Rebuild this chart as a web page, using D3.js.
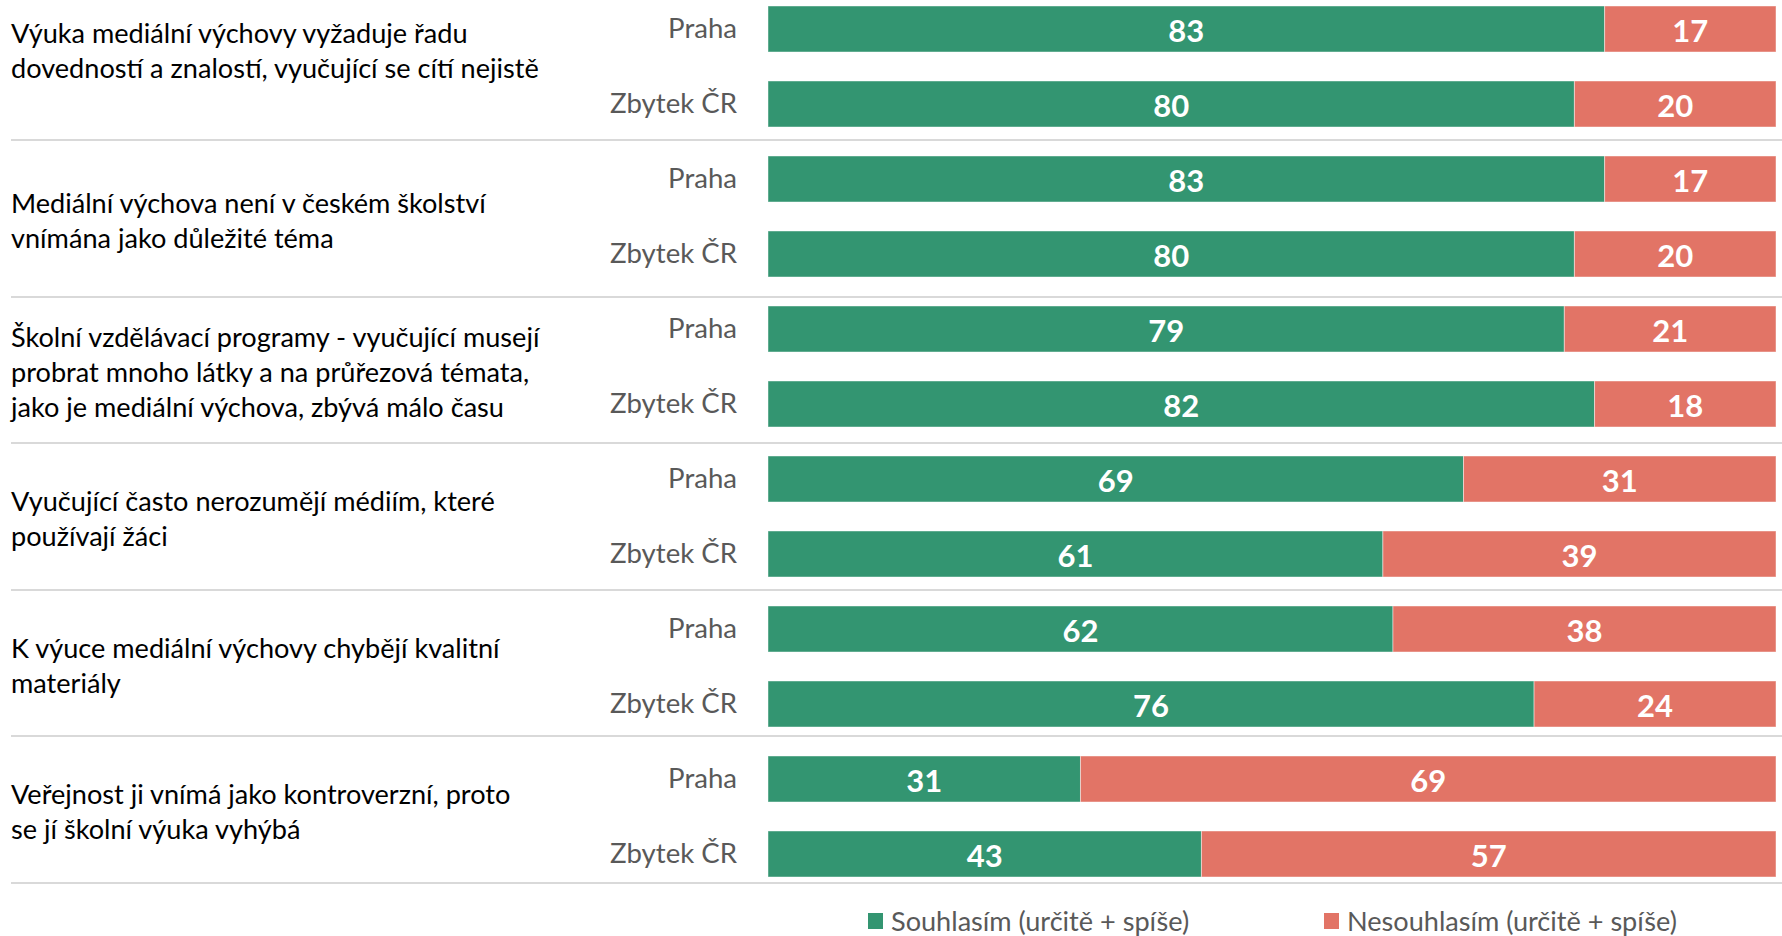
<!DOCTYPE html>
<html><head><meta charset="utf-8">
<script src="https://cdn.jsdelivr.net/npm/d3@7"></script>
<style>body{margin:0;background:#fff}svg{display:block}</style>
</head><body>
<svg id="c" width="1782" height="936"></svg>
<script>
// ---- data ----
const categories = [
  ["Výuka mediální výchovy vyžaduje řadu", "dovedností a znalostí, vyučující se cítí nejistě"],
  ["Mediální výchova není v českém školství", "vnímána jako důležité téma"],
  ["Školní vzdělávací programy - vyučující musejí", "probrat mnoho látky a na průřezová témata,", "jako je mediální výchova, zbývá málo času"],
  ["Vyučující často nerozumějí médiím, které", "používají žáci"],
  ["K výuce mediální výchovy chybějí kvalitní", "materiály"],
  ["Veřejnost ji vnímá jako kontroverzní, proto", "se jí školní výuka vyhýbá"]
];
const regions = ["Praha", "Zbytek ČR"];
const agreePraha    = [83, 83, 79, 69, 62, 31];
const agreeRest     = [80, 80, 82, 61, 76, 43];
const disagreePraha = [17, 17, 21, 31, 38, 69];
const disagreeRest  = [20, 20, 18, 39, 24, 57];
const seriesNames = ["Souhlasím (určitě + spíše)", "Nesouhlasím (určitě + spíše)"];
const xTicks = [0, 100];

// ---- layout / style ----
const FONT = "Lato, 'Open Sans', sans-serif";
const GREEN = "#339571", RED = "#E27466";
const ruleY = [140, 297, 443, 590, 736, 883];
const firstCellTop = -43;

const svg = d3.select("#c");

// measure helper for fitting fallback font to the original text widths
function fitSize(text, weight, target) {
  const t = svg.append("text").attr("font-family", FONT).attr("font-weight", weight)
    .attr("font-size", 100).text(text);
  const w = t.node().getComputedTextLength();
  t.remove();
  return 100 * target / w;
}
const catSize = fitSize(categories[0][1], 400, 528);
const regSize = fitSize(regions[1], 400, 127);
const legSize = fitSize(seriesNames[1], 400, 330);
const valSize = 31;

const rows = [];
categories.forEach((c, i) => {
  rows.push({key: i + "-0", cat: i, region: regions[0], agree: agreePraha[i], disagree: disagreePraha[i]});
  rows.push({key: i + "-1", cat: i, region: regions[1], agree: agreeRest[i], disagree: disagreeRest[i]});
});

const x = d3.scaleLinear().domain(d3.extent(xTicks)).range([768, 1776]);
const y = d3.scaleBand().domain(rows.map(r => r.key)).range([6, 877]).paddingInner(0.3867).paddingOuter(0);

// separators
svg.append("g").selectAll("line").data(ruleY).join("line")
  .attr("x1", 11).attr("x2", 1782).attr("y1", d => d).attr("y2", d => d)
  .attr("stroke", "#D9D9D9").attr("stroke-width", 2);

// category labels
const cellTops = [firstCellTop].concat(ruleY.slice(0, -1));
const catG = svg.append("g");
categories.forEach((lines, i) => {
  const center = (cellTops[i] + ruleY[i]) / 2 + 1.5;
  const lh = 35;
  const t = catG.append("text").attr("font-family", FONT).attr("font-size", catSize).attr("fill", "#000");
  lines.forEach((ln, j) => {
    t.append("tspan").attr("x", 11)
      .attr("y", center + (j - (lines.length - 1) / 2) * lh)
      .attr("dominant-baseline", "central")
      .text(ln);
  });
});

// region labels (y axis)
const yAxis = d3.axisLeft(y).tickSize(0).tickPadding(31).tickFormat(k => rows.find(r => r.key === k).region);
const ya = svg.append("g").attr("transform", `translate(${x(0)},0)`).call(yAxis);
ya.select(".domain").remove();
ya.selectAll("text").attr("font-family", FONT).attr("font-size", regSize).attr("fill", "#595959");

// bars
const stacks = [
  {name: seriesNames[0], color: GREEN, x0: r => 0, x1: r => r.agree, v: r => r.agree},
  {name: seriesNames[1], color: RED, x0: r => r.agree, x1: r => r.agree + r.disagree, v: r => r.disagree}
];
stacks.forEach(s => {
  const g = svg.append("g");
  g.selectAll("rect").data(rows).join("rect")
    .attr("x", r => x(s.x0(r))).attr("width", r => x(s.x1(r)) - x(s.x0(r)))
    .attr("y", r => y(r.key)).attr("height", y.bandwidth())
    .attr("fill", s.color).attr("stroke", "rgba(255,255,255,0.45)").attr("stroke-width", 1);
  g.selectAll("text").data(rows).join("text")
    .attr("x", r => (x(s.x0(r)) + x(s.x1(r))) / 2)
    .attr("y", r => y(r.key) + y.bandwidth() / 2 + 1)
    .attr("text-anchor", "middle").attr("dominant-baseline", "central")
    .attr("font-family", FONT).attr("font-weight", 700).attr("font-size", valSize)
    .attr("fill", "#fff").text(r => s.v(r));
});

// legend
const legX = [868, 1324];
const leg = svg.append("g");
stacks.forEach((s, i) => {
  leg.append("rect").attr("x", legX[i]).attr("y", 913).attr("width", 15).attr("height", 16).attr("fill", s.color);
  leg.append("text").attr("x", legX[i] + 23).attr("y", 920).attr("dominant-baseline", "central")
    .attr("font-family", FONT).attr("font-size", legSize).attr("fill", "#595959").text(s.name);
});
</script>
</body></html>
